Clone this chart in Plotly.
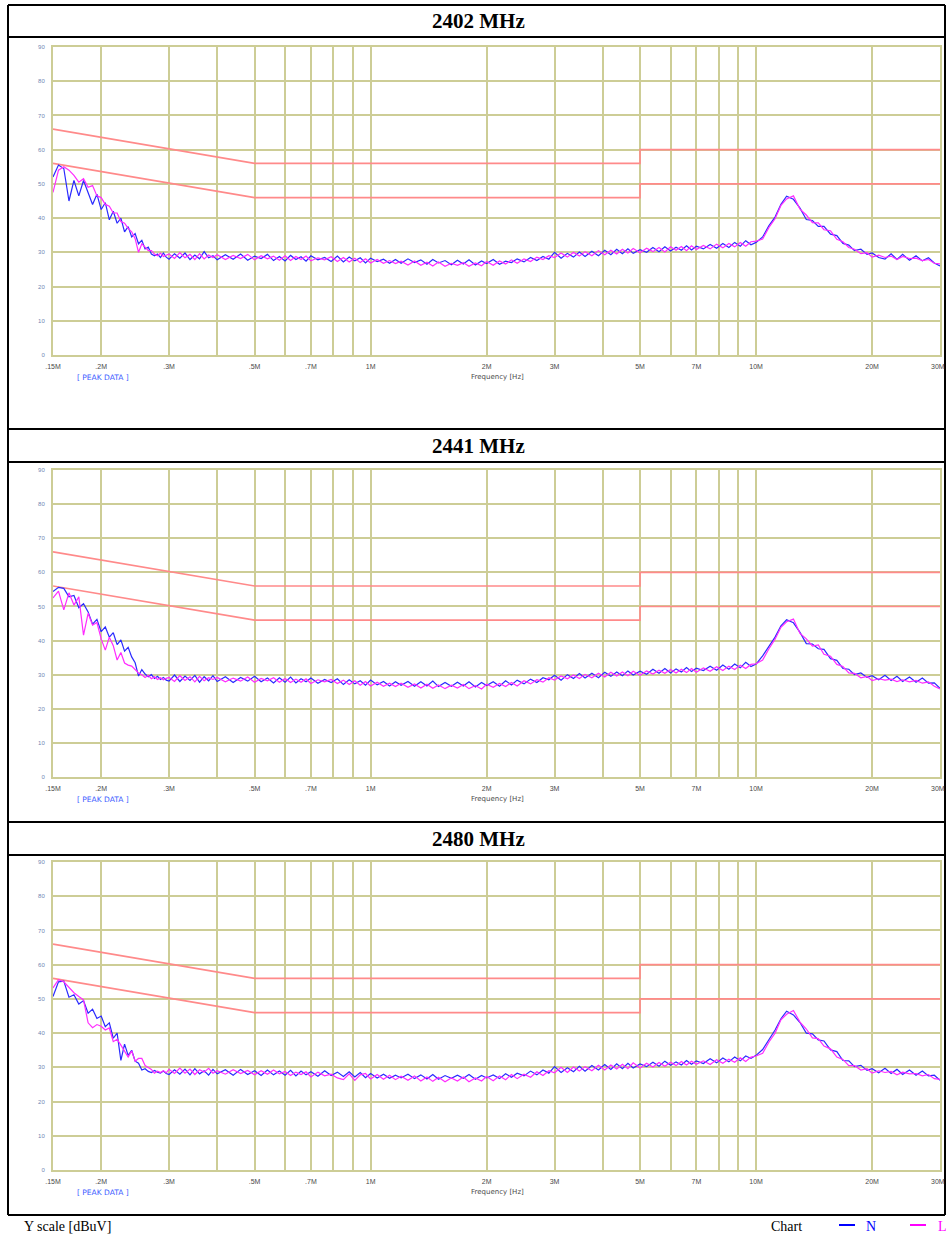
import math
import plotly.graph_objects as go

W, H = 947, 1234

# ---- sweep frequencies (MHz) ----
ripple_freq = [0.150, 0.155, 0.160, 0.165, 0.170, 0.175, 0.180, 0.185, 0.190, 0.195,
               0.200, 0.205, 0.210, 0.215, 0.220, 0.225, 0.230, 0.235, 0.240, 0.245,
               0.250, 0.255, 0.260, 0.265, 0.270, 0.275, 0.280, 0.285, 0.290, 0.295]
sweep_freq = [0.30, 0.31, 0.32, 0.33, 0.34, 0.35, 0.36, 0.37, 0.38, 0.39,
              0.40, 0.42, 0.44, 0.46, 0.48, 0.50, 0.52, 0.54, 0.56, 0.58,
              0.60, 0.62, 0.64, 0.66, 0.68, 0.70, 0.73, 0.76, 0.79, 0.82,
              0.85, 0.88, 0.91, 0.94, 0.97, 1.00, 1.04, 1.08, 1.12, 1.16,
              1.20, 1.25, 1.30, 1.35, 1.40, 1.45, 1.50, 1.56, 1.62, 1.68,
              1.74, 1.80, 1.87, 1.94, 2.00, 2.08, 2.16, 2.24, 2.32, 2.40,
              2.50, 2.60, 2.70, 2.80, 2.90, 3.00, 3.12, 3.24, 3.36, 3.48,
              3.60, 3.75, 3.90, 4.05, 4.20, 4.35, 4.50, 4.65, 4.80, 5.00,
              5.20, 5.40, 5.60, 5.80, 6.00, 6.20, 6.40, 6.60, 6.80, 7.00,
              7.30, 7.60, 7.90, 8.20, 8.50, 8.80, 9.10, 9.40, 9.70, 10.0,
              10.4, 10.8, 11.2, 11.6, 12.0, 12.5, 13.0, 13.5, 14.0, 14.5,
              15.0, 15.6, 16.2, 16.8, 17.4, 18.0, 18.7, 19.4, 20.0, 20.8,
              21.6, 22.4, 23.2, 24.0, 25.0, 26.0, 27.0, 28.0, 29.0, 30.0]
freq_mhz = ripple_freq + sweep_freq

# ---- measured peak levels (dBuV) ----
n_2402 = [52.0, 55.5, 54.5, 45.0, 51.0, 46.5, 51.0, 47.5, 44.0, 47.0,
          42.5, 44.5, 39.5, 42.0, 38.5, 40.0, 36.0, 37.5, 34.5, 35.5,
          32.5, 33.5, 31.0, 31.5, 29.5, 29.0, 29.5, 28.5, 29.8, 28.6,
          28.0, 29.6, 28.3, 29.8, 27.9, 29.2, 28.1, 30.2, 28.4, 29.0,
          27.8, 29.3, 28.0, 29.5, 27.7, 28.9, 28.2, 29.4, 27.6, 28.8,
          27.5, 29.1, 27.9, 28.7, 27.4, 29.0, 27.8, 28.5, 27.3, 28.9,
          27.2, 28.6, 27.5, 28.4, 26.9, 28.3, 27.3, 28.0, 26.8, 27.9,
          26.8, 28.1, 27.0, 27.8, 26.5, 27.9, 26.9, 27.6, 26.4, 27.7,
          26.6, 27.8, 26.3, 27.5, 26.7, 27.9, 26.5, 27.4, 27.0, 28.1,
          27.2, 28.5, 27.6, 28.8, 28.0, 30.0, 28.3, 29.7, 28.6, 30.1,
          28.8, 30.3, 29.0, 30.6, 29.3, 30.9, 29.6, 31.0, 29.7, 30.8,
          30.0, 31.4, 30.2, 31.6, 30.4, 31.5, 30.6, 31.9, 30.7, 31.8,
          31.0, 32.3, 31.2, 32.6, 31.4, 32.9, 31.8, 33.4, 32.2, 32.9,
          34.5, 37.8, 40.3, 44.0, 46.4, 45.5, 42.9, 39.6, 39.3, 37.6,
          37.6, 35.3, 34.9, 32.6, 32.1, 30.5, 30.9, 29.4, 29.8, 28.5,
          28.0, 29.6, 27.9, 29.4, 27.7, 29.0, 27.5, 28.4, 26.9, 26.0]
l_2402 = [47.5, 54.0, 55.0, 54.0, 52.5, 50.5, 51.5, 49.0, 49.5, 46.5,
          46.0, 44.0, 43.5, 41.5, 41.5, 39.0, 38.5, 37.0, 36.0, 34.0,
          30.0, 32.5, 31.5, 30.5, 30.5, 29.5, 29.0, 29.8, 28.8, 29.2,
          29.5, 28.2, 29.9, 28.4, 29.4, 27.9, 29.6, 28.1, 29.2, 28.5,
          29.3, 27.9, 29.1, 28.2, 29.4, 27.8, 29.0, 28.1, 28.9, 27.7,
          29.0, 27.6, 28.8, 27.9, 28.9, 27.5, 28.4, 27.8, 28.7, 27.3,
          28.5, 27.2, 28.3, 27.0, 28.1, 26.9, 27.9, 26.8, 27.6, 26.7,
          27.4, 26.3, 27.5, 26.2, 27.1, 26.0, 27.2, 25.9, 26.8, 26.2,
          27.0, 25.9, 26.9, 26.1, 27.3, 26.2, 27.5, 26.6, 27.8, 26.8,
          28.1, 27.3, 28.6, 27.9, 29.0, 28.5, 29.8, 28.6, 30.0, 28.9,
          30.2, 29.0, 30.5, 29.3, 30.6, 29.5, 30.9, 29.8, 31.1, 29.9,
          31.2, 30.2, 31.4, 30.1, 31.6, 30.6, 31.7, 30.5, 31.9, 30.8,
          32.0, 31.0, 32.4, 31.3, 32.6, 31.6, 32.9, 31.8, 33.1, 33.3,
          33.9, 37.3, 39.8, 43.7, 45.6, 46.5, 42.6, 40.9, 38.7, 38.6,
          36.6, 36.3, 33.8, 33.1, 31.4, 30.9, 29.6, 29.9, 28.6, 29.2,
          28.5, 28.9, 27.9, 28.8, 28.2, 28.3, 27.6, 27.9, 26.8, 26.6]

n_2441 = [54.4, 55.6, 55.3, 52.8, 53.2, 49.6, 50.8, 48.4, 44.8, 46.2,
          42.6, 44.0, 41.0, 42.3, 38.8, 40.2, 36.9, 38.0, 35.2, 33.5,
          29.6, 31.5, 30.2, 29.4, 30.0, 28.9, 29.5, 28.6, 29.2, 28.4,
          28.1, 29.9, 28.0, 29.6, 28.3, 29.8, 27.8, 29.4, 28.2, 29.7,
          28.0, 29.4, 27.7, 29.2, 28.1, 29.5, 27.9, 29.0, 27.6, 29.1,
          27.8, 29.3, 27.6, 28.8, 27.9, 29.0, 27.5, 28.6, 27.7, 28.8,
          27.1, 28.5, 27.3, 28.2, 26.9, 28.4, 27.0, 28.0, 26.7, 27.9,
          26.9, 28.0, 26.6, 27.9, 26.7, 28.1, 26.5, 27.7, 26.6, 27.8,
          26.7, 27.9, 26.4, 27.7, 26.8, 27.9, 26.6, 28.2, 27.0, 28.4,
          27.3, 28.7, 27.7, 29.1, 28.5, 29.8, 28.4, 30.0, 28.9, 30.3,
          29.0, 30.4, 29.1, 30.7, 29.5, 30.8, 29.7, 31.1, 29.9, 31.0,
          30.1, 31.6, 30.4, 31.8, 30.5, 31.7, 30.8, 32.1, 30.9, 31.9,
          31.2, 32.5, 31.3, 32.8, 31.6, 33.1, 32.0, 33.6, 32.4, 33.1,
          35.5, 38.4, 41.0, 44.3, 46.1, 45.2, 42.4, 39.1, 39.0, 37.6,
          37.4, 34.7, 34.2, 31.8, 31.6, 30.0, 30.5, 29.2, 29.7, 28.5,
          29.8, 28.3, 29.5, 28.0, 29.3, 27.8, 29.0, 27.5, 27.6, 26.0]
l_2441 = [52.5, 54.5, 49.0, 54.0, 50.4, 52.8, 41.6, 48.0, 44.5, 45.3,
          40.5, 37.2, 41.0, 38.5, 34.3, 36.5, 33.4, 32.8, 32.5, 31.4,
          30.5, 30.0, 29.2, 29.8, 28.8, 29.4, 28.6, 29.1, 28.5, 28.9,
          29.2, 28.0, 29.7, 28.3, 29.4, 27.9, 29.5, 28.2, 29.1, 28.6,
          29.2, 27.9, 29.0, 28.1, 29.3, 27.8, 28.9, 28.2, 29.1, 27.8,
          28.9, 27.7, 28.7, 27.8, 28.8, 27.4, 28.5, 27.9, 28.6, 27.4,
          28.4, 27.1, 28.2, 26.9, 28.0, 26.7, 27.8, 26.6, 27.5, 26.5,
          27.5, 26.3, 27.3, 26.1, 27.2, 26.0, 27.0, 25.9, 26.9, 26.1,
          27.1, 25.9, 26.8, 25.8, 27.2, 26.3, 27.4, 26.5, 27.7, 26.7,
          28.2, 27.3, 28.5, 27.8, 29.1, 28.4, 29.6, 28.8, 29.9, 28.9,
          30.1, 29.1, 30.4, 29.3, 30.7, 29.6, 30.8, 29.7, 31.0, 29.8,
          31.1, 30.2, 31.3, 30.4, 31.5, 30.5, 31.6, 30.6, 31.8, 30.7,
          32.0, 31.0, 32.3, 31.2, 32.5, 31.5, 32.8, 31.8, 33.0, 33.2,
          34.3, 37.6, 40.4, 43.9, 45.5, 46.3, 42.1, 40.5, 38.4, 38.7,
          36.0, 35.4, 33.0, 32.4, 30.5, 30.4, 29.1, 29.5, 28.3, 28.8,
          28.4, 28.7, 28.0, 28.5, 27.9, 28.3, 27.5, 27.9, 26.6, 25.8]

n_2480 = [50.7, 55.0, 55.2, 50.5, 51.2, 48.5, 49.5, 45.8, 47.0, 44.3,
          45.0, 41.9, 43.0, 38.5, 40.0, 32.0, 36.8, 33.5, 35.0, 31.8,
          31.2, 29.2, 29.6, 28.8, 28.5, 29.1, 28.6, 28.3, 28.9, 28.2,
          27.9, 29.3, 28.0, 29.5, 27.8, 29.6, 28.1, 29.0, 27.7, 29.4,
          28.1, 29.3, 27.7, 29.4, 27.9, 29.0, 27.6, 29.2, 27.8, 28.9,
          27.7, 29.1, 27.5, 28.9, 27.8, 28.7, 27.4, 29.0, 27.6, 28.6,
          27.3, 28.7, 27.2, 28.5, 27.0, 28.2, 26.9, 28.0, 26.8, 27.7,
          26.9, 28.0, 26.7, 27.8, 26.6, 27.9, 26.5, 27.6, 26.8, 27.7,
          26.8, 27.9, 26.5, 27.6, 26.9, 27.8, 26.7, 28.1, 27.1, 28.3,
          27.5, 28.9, 27.8, 29.2, 28.3, 30.2, 28.5, 29.9, 28.7, 30.3,
          28.9, 30.5, 29.2, 30.8, 29.4, 31.0, 29.6, 31.2, 29.8, 31.0,
          30.2, 31.5, 30.3, 31.8, 30.6, 31.6, 30.7, 32.0, 30.9, 31.9,
          31.1, 32.5, 31.3, 32.7, 31.6, 33.0, 31.9, 33.3, 32.6, 33.5,
          35.2, 38.2, 40.9, 44.2, 46.4, 45.3, 43.1, 40.0, 39.8, 38.0,
          37.7, 35.1, 34.6, 32.0, 31.9, 30.2, 30.6, 29.1, 29.6, 28.4,
          29.7, 28.2, 29.4, 27.9, 29.2, 27.7, 28.9, 27.5, 27.7, 26.2]
l_2480 = [53.2, 55.6, 55.0, 53.5, 51.8, 50.7, 49.7, 43.0, 41.6, 42.5,
          42.0, 40.9, 41.5, 37.5, 38.2, 36.5, 34.5, 33.0, 34.8, 31.8,
          32.6, 32.6, 30.5, 30.0, 29.4, 28.3, 28.9, 28.5, 29.0, 28.4,
          29.4, 28.2, 29.8, 28.3, 29.5, 27.9, 29.3, 28.6, 29.7, 28.3,
          29.0, 28.0, 29.3, 28.2, 29.1, 27.8, 29.0, 28.0, 29.2, 28.1,
          28.8, 27.6, 28.6, 27.9, 28.7, 27.2, 28.6, 27.5, 28.0, 26.9,
          26.4, 28.1, 26.2, 27.8, 28.2, 26.6, 27.9, 26.5, 27.7, 26.4,
          27.4, 26.2, 27.5, 26.0, 27.2, 25.9, 27.1, 25.8, 26.9, 26.0,
          27.2, 25.8, 26.9, 26.0, 27.3, 26.1, 27.5, 26.4, 27.9, 26.7,
          28.0, 27.1, 28.7, 27.6, 29.0, 28.4, 30.0, 28.5, 30.1, 28.9,
          30.2, 29.0, 30.6, 29.2, 30.7, 29.5, 30.9, 29.6, 31.3, 29.8,
          31.2, 30.1, 31.4, 30.3, 31.5, 30.5, 31.7, 30.7, 31.8, 30.9,
          31.9, 30.8, 32.2, 31.2, 32.4, 31.5, 32.8, 31.7, 33.0, 33.3,
          34.1, 37.4, 40.0, 43.9, 45.5, 46.6, 43.2, 41.2, 38.6, 38.4,
          36.2, 35.4, 33.0, 32.3, 30.5, 30.5, 29.2, 29.6, 28.3, 29.0,
          28.5, 28.8, 27.8, 28.6, 28.1, 28.2, 27.5, 27.9, 26.7, 26.5]

# ---- limit lines ----
limit_freq = [0.15, 0.5, 5.0, 5.0, 30.0]
qp_limit = [66, 56, 56, 60, 60]
av_limit = [56, 46, 46, 50, 50]

# ---- axis grid / labels ----
grid_freq = [0.15, 0.2, 0.3, 0.4, 0.5, 0.6, 0.7, 0.8, 0.9, 1, 2, 3, 4, 5, 6, 7, 8, 9, 10, 20, 30]
grid_text = [".15M", ".2M", ".3M", "", ".5M", "", ".7M", "", "", "1M", "2M", "3M", "",
             "5M", "", "7M", "", "", "10M", "20M", ""]
end_label = "30M"   # last tick label, placed flush with the right page edge
level_ticks = [0, 10, 20, 30, 40, 50, 60, 70, 80, 90]

titles = ["2402 MHz", "2441 MHz", "2480 MHz"]
n_series = [n_2402, n_2441, n_2480]
l_series = [l_2402, l_2441, l_2480]

# panel geometry in pixels
plot_top = [47, 470, 862]
plot_bottom = [355, 777, 1170]
title_top = [5, 429, 822]
title_bottom = [37, 462, 855]
frame_bottom = 1215
plot_left, plot_right = 53, 940
frame_left, frame_right = 8, 945


def px(x):
    return x / W


def py(y):
    return 1 - y / H


GRID = "#cdcd96"
N_COLOR = "#2a2aff"
L_COLOR = "#ff2cff"
LIMIT_COLOR = "#ff8a8a"
TICK_FONT = dict(family="Liberation Sans", size=7, color="#4a4a4a")

fig = go.Figure()
layout = dict(
    width=W, height=H, margin=dict(l=0, r=0, t=0, b=0, autoexpand=False),
    paper_bgcolor="white", plot_bgcolor="white", showlegend=False,
)

shapes = []
annotations = []

for i in range(3):
    k = "" if i == 0 else str(i + 1)
    xa, ya = "x" + k, "y" + k

    for lvl in (qp_limit, av_limit):
        fig.add_trace(go.Scatter(x=limit_freq, y=lvl, mode="lines", xaxis=xa, yaxis=ya,
                                 line=dict(color=LIMIT_COLOR, width=1.6), hoverinfo="skip"))
    fig.add_trace(go.Scatter(x=freq_mhz, y=n_series[i], mode="lines", xaxis=xa, yaxis=ya,
                             name="N", line=dict(color=N_COLOR, width=1.2)))
    fig.add_trace(go.Scatter(x=freq_mhz, y=l_series[i], mode="lines", xaxis=xa, yaxis=ya,
                             name="L", line=dict(color=L_COLOR, width=1.2)))

    layout["xaxis" + k] = dict(
        type="log", range=[math.log10(0.15), math.log10(30)],
        domain=[px(plot_left), px(plot_right)], anchor=ya, automargin=False,
        tickmode="array", tickvals=grid_freq, ticktext=grid_text,
        showgrid=True, gridcolor=GRID, gridwidth=2,
        showline=True, linecolor=GRID, linewidth=2, mirror=True,
        ticks="", ticklabelstandoff=4, zeroline=False, tickfont=TICK_FONT,
    )
    layout["yaxis" + k] = dict(
        range=[0, 90], domain=[py(plot_bottom[i]), py(plot_top[i])], anchor=xa,
        automargin=False,
        tickmode="array", tickvals=level_ticks,
        showgrid=True, gridcolor=GRID, gridwidth=2,
        showline=True, linecolor=GRID, linewidth=2, mirror=True,
        ticks="", ticklabelstandoff=5, zeroline=False,
        tickfont=dict(family="Liberation Sans", size=6, color="#6f86b4"),
    )
    annotations.append(dict(text=end_label, xref="paper", yref="paper",
                            x=px(946.5), y=py(plot_bottom[i] + 6),
                            xanchor="right", yanchor="top", showarrow=False,
                            font=TICK_FONT))

    # title cell
    for yy in (title_top[i], title_bottom[i]):
        shapes.append(dict(type="line", xref="paper", yref="paper",
                           x0=px(frame_left), x1=px(frame_right), y0=py(yy), y1=py(yy),
                           line=dict(color="black", width=2)))
    annotations.append(dict(text="<b>%s</b>" % titles[i], xref="paper", yref="paper",
                            x=px(478), y=py((title_top[i] + title_bottom[i]) / 2),
                            xanchor="center", yanchor="middle", showarrow=False,
                            font=dict(family="Liberation Serif", size=21, color="black")))
    # captions under each plot
    annotations.append(dict(text="[ PEAK DATA ]", xref="paper", yref="paper",
                            x=px(103), y=py(plot_bottom[i] + 22),
                            xanchor="center", yanchor="middle", showarrow=False,
                            font=dict(family="DejaVu Sans", size=7.5, color="#3b5bff")))
    annotations.append(dict(text="Frequency [Hz]", xref="paper", yref="paper",
                            x=px(497), y=py(plot_bottom[i] + 22),
                            xanchor="center", yanchor="middle", showarrow=False,
                            font=dict(family="DejaVu Sans", size=7, color="#4a4a4a")))

# outer frame
shapes.append(dict(type="line", xref="paper", yref="paper",
                   x0=px(frame_left), x1=px(frame_right),
                   y0=py(frame_bottom), y1=py(frame_bottom),
                   line=dict(color="black", width=2)))
for xv in (frame_left, frame_right):
    shapes.append(dict(type="line", xref="paper", yref="paper",
                       x0=px(xv), x1=px(xv), y0=py(title_top[0]), y1=py(frame_bottom),
                       line=dict(color="black", width=2)))

# footer
serif = dict(family="Liberation Serif", size=14)
annotations.append(dict(text="Y scale [dBuV]", xref="paper", yref="paper",
                        x=px(22), y=py(1226), xanchor="left", yanchor="middle",
                        showarrow=False, font=dict(color="black", **serif)))
annotations.append(dict(text="Chart", xref="paper", yref="paper",
                        x=px(769), y=py(1226), xanchor="left", yanchor="middle",
                        showarrow=False, font=dict(color="black", **serif)))
annotations.append(dict(text="N", xref="paper", yref="paper",
                        x=px(864), y=py(1226), xanchor="left", yanchor="middle",
                        showarrow=False, font=dict(color="#0000ff", **serif)))
annotations.append(dict(text="L", xref="paper", yref="paper",
                        x=px(936), y=py(1226), xanchor="left", yanchor="middle",
                        showarrow=False, font=dict(color="#ff00ff", **serif)))
shapes.append(dict(type="line", xref="paper", yref="paper", x0=px(839), x1=px(855),
                   y0=py(1225), y1=py(1225), line=dict(color="#0000ff", width=2)))
shapes.append(dict(type="line", xref="paper", yref="paper", x0=px(910), x1=px(926),
                   y0=py(1225), y1=py(1225), line=dict(color="#ff00ff", width=2)))

layout["shapes"] = shapes
layout["annotations"] = annotations
fig.update_layout(**layout)

fig.write_html("out.html")
